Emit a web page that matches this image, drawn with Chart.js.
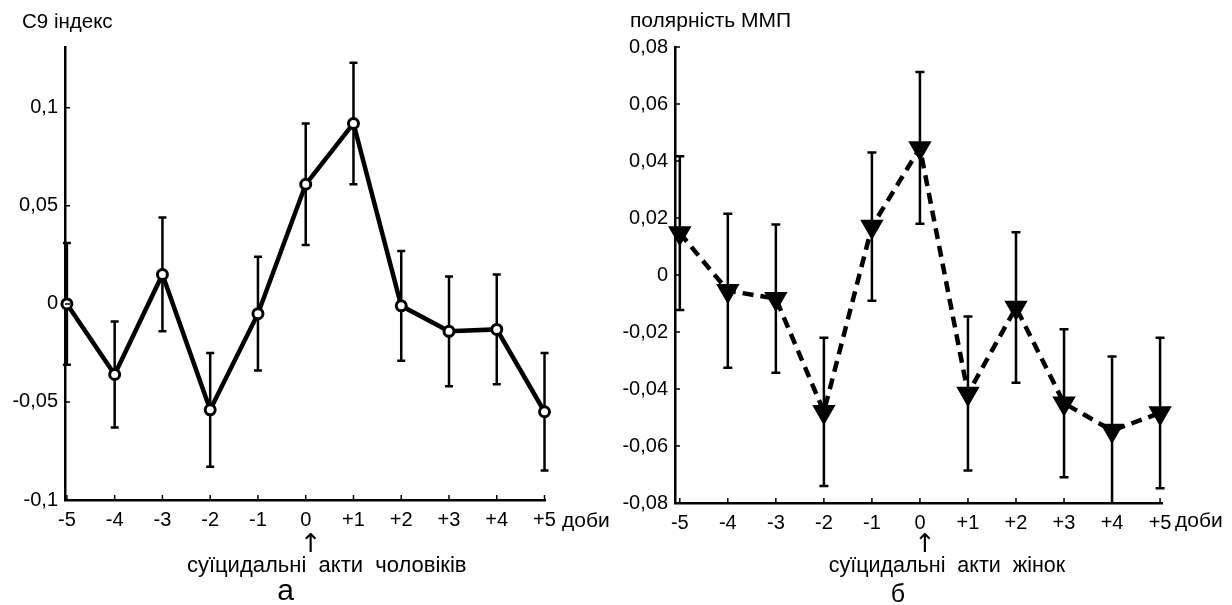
<!DOCTYPE html>
<html>
<head>
<meta charset="utf-8">
<script src="https://cdn.jsdelivr.net/npm/chart.js@4.4.1/dist/chart.umd.min.js"></script>
<style>
    html, body { margin: 0; padding: 0; background: #fff; }
    #wrap { position: relative; width: 1232px; height: 605px; }
    .box { position: absolute; top: 0; width: 616px; height: 605px; }
</style>
</head>
<body>
<div id="wrap">
    <div class="box" style="left:0"><canvas id="chartA" width="616" height="605"></canvas></div>
    <div class="box" style="left:616px"><canvas id="chartB" width="616" height="605"></canvas></div>
</div>
<script>
'use strict'
// days around the event, same for both panels
const days = [-5, -4, -3, -2, -1, 0, 1, 2, 3, 4, 5];
const dayLabels = ['-5', '-4', '-3', '-2', '-1', '0', '+1', '+2', '+3', '+4', '+5'];

// panel a - C9 index, men
const c9Men = [0.000, -0.036, 0.015, -0.054, -0.005, 0.061, 0.092, -0.001, -0.014, -0.013, -0.055];
const c9MenErr = [0.031, 0.027, 0.029, 0.029, 0.029, 0.031, 0.031, 0.028, 0.028, 0.028, 0.030];
const c9Ticks = [-0.1, -0.05, 0, 0.05, 0.1];

// panel b - IMF polarity, women
const imfWomen = [0.0147, -0.0055, -0.0083, -0.048, 0.017, 0.0446, -0.0416, -0.0114, -0.045, -0.0546, -0.0484];
const imfWomenErr = [0.027, 0.027, 0.026, 0.026, 0.026, 0.0266, 0.027, 0.0264, 0.026, 0.026, 0.0264];
const imfTicks = [-0.08, -0.06, -0.04, -0.02, 0, 0.02, 0.04, 0.06, 0.08];

const fontFamily = "'Liberation Sans', Arial, sans-serif";

function fmt(v) {
    return String(v).replace('.', ',');
}

function errorBars(values, errors, cap) {
    return {
        id: 'errorBars',
        beforeDatasetsDraw(chart) {
            const ctx = chart.ctx;
            const x = chart.scales.x, y = chart.scales.y;
            ctx.save();
            ctx.strokeStyle = '#000';
            ctx.lineWidth = 2.5;
            values.forEach((v, i) => {
                const px = x.getPixelForValue(days[i]);
                const hi = v + errors[i], lo = v - errors[i];
                const top = y.getPixelForValue(Math.min(hi, y.max));
                const bot = y.getPixelForValue(Math.max(lo, y.min));
                ctx.beginPath();
                ctx.moveTo(px, top);
                ctx.lineTo(px, bot);
                if (hi <= y.max) { ctx.moveTo(px - cap, top); ctx.lineTo(px + cap, top); }
                if (lo >= y.min) { ctx.moveTo(px - cap, bot); ctx.lineTo(px + cap, bot); }
                ctx.stroke();
            });
            ctx.restore();
        }
    };
}

// small tick marks drawn inside the plot, like the original
const innerTicks = {
    id: 'innerTicks',
    afterDraw(chart) {
        const ctx = chart.ctx;
        const x = chart.scales.x, y = chart.scales.y;
        const area = chart.chartArea;
        ctx.save();
        ctx.strokeStyle = '#000';
        ctx.lineWidth = 1.5;
        ctx.beginPath();
        x.ticks.forEach(t => {
            const px = x.getPixelForValue(t.value);
            ctx.moveTo(px, area.bottom);
            ctx.lineTo(px, area.bottom - 5);
        });
        y.ticks.forEach(t => {
            const py = y.getPixelForValue(t.value);
            ctx.moveTo(area.left, py);
            ctx.lineTo(area.left + 5, py);
        });
        ctx.stroke();
        ctx.restore();
    }
};

function notes(items) {
    return {
        id: 'notes',
        afterDraw(chart) {
            const ctx = chart.ctx;
            const zero = chart.scales.x.getPixelForValue(0);
            ctx.save();
            ctx.fillStyle = '#000';
            ctx.textBaseline = 'alphabetic';
            items.forEach(t => {
                ctx.font = t.size + 'px ' + (t.family || fontFamily);
                ctx.textAlign = t.align || 'left';
                ctx.fillText(t.text, t.atZero ? zero + (t.dx || 0) : t.x, t.y);
            });
            ctx.restore();
        }
    };
}

function chartConfig(values, dataset, yTicks, yMin, yMax, xMin, xMax, pad, yWidth, plugins) {
    return {
        type: 'line',
        data: {
            datasets: [Object.assign({
                data: days.map((d, i) => ({x: d, y: values[i]})),
                borderColor: '#000',
                borderWidth: 4.5,
                pointBorderColor: '#000',
                clip: false,
                tension: 0
            }, dataset)]
        },
        options: {
            responsive: false,
            animation: false,
            devicePixelRatio: 1,
            layout: {padding: pad},
            plugins: {legend: {display: false}, tooltip: {enabled: false}},
            scales: {
                x: {
                    type: 'linear',
                    min: xMin,
                    max: xMax,
                    grid: {display: false, drawTicks: false},
                    border: {display: true, color: '#000', width: 2.5},
                    afterBuildTicks: s => { s.ticks = days.map(v => ({value: v})); },
                    afterFit: s => { s.height = 30; },
                    ticks: {
                        color: '#000',
                        padding: 8,
                        autoSkip: false,
                        maxRotation: 0,
                        font: {family: fontFamily, size: 20},
                        callback: (v) => dayLabels[days.indexOf(v)]
                    }
                },
                y: {
                    min: yMin,
                    max: yMax,
                    grid: {display: false, drawTicks: false},
                    border: {display: true, color: '#000', width: 2.5},
                    afterBuildTicks: s => { s.ticks = yTicks.map(v => ({value: v})); },
                    afterFit: s => { s.width = yWidth; },
                    ticks: {
                        color: '#000',
                        padding: 7,
                        font: {family: fontFamily, size: 20},
                        callback: (v) => fmt(v)
                    }
                }
            }
        },
        plugins: plugins
    };
}

const chartA = new Chart(document.getElementById('chartA').getContext('2d'), chartConfig(
    c9Men,
    {pointRadius: 5, pointBackgroundColor: '#fff', pointBorderWidth: 3},
    c9Ticks, -0.1, 0.131, -5.04, 5.01,
    {left: 0, right: 71, top: 47, bottom: 75}, 65,
    [errorBars(c9Men, c9MenErr, 4), innerTicks, notes([
        {text: 'C9 індекс', x: 22, y: 28, size: 20.5},
        {text: 'доби', x: 562, y: 527, size: 21},
        {text: '↑', atZero: true, dx: 5, y: 552, size: 26, family: "'DejaVu Sans'", align: 'center'},
        {text: 'суїцидальні  акти  чоловіків', atZero: true, dx: 21, y: 572, size: 22, align: 'center'},
        {text: 'а', atZero: true, dx: -20, y: 600, size: 30, align: 'center'}
    ])]
));

const chartB = new Chart(document.getElementById('chartB').getContext('2d'), chartConfig(
    imfWomen,
    {pointRadius: 12, pointStyle: 'triangle', rotation: 180, pointBackgroundColor: '#000', pointBorderWidth: 1.5, borderDash: [11, 7]},
    imfTicks, -0.08, 0.08, -5.1, 5.04,
    {left: 0, right: 70, top: 47, bottom: 72}, 59,
    [errorBars(imfWomen, imfWomenErr, 4.5), innerTicks, notes([
        {text: 'полярність ММП', x: 14, y: 27, size: 21},
        {text: 'доби', x: 559, y: 527, size: 21},
        {text: '↑', atZero: true, dx: 5, y: 552, size: 26, family: "'DejaVu Sans'", align: 'center'},
        {text: 'суїцидальні  акти  жінок', atZero: true, dx: 27, y: 572, size: 21.5, align: 'center'},
        {text: 'б', atZero: true, dx: -22, y: 602, size: 25, align: 'center'}
    ])]
));
</script>
</body>
</html>
